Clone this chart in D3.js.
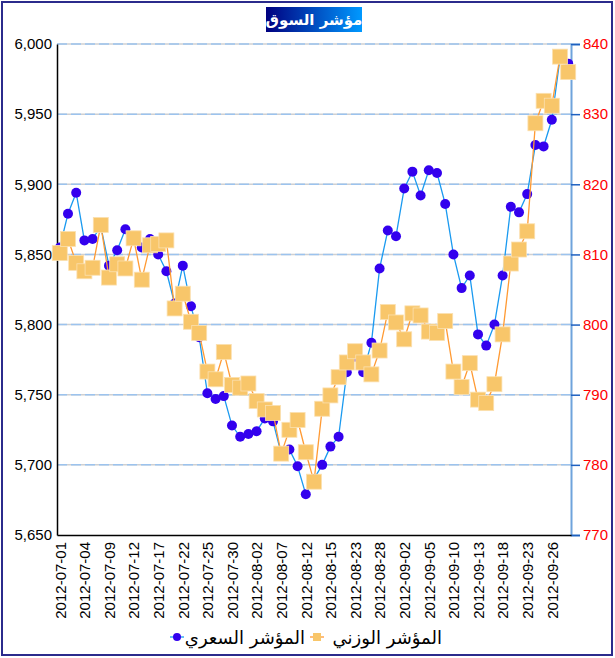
<!DOCTYPE html>
<html>
<head>
<meta charset="utf-8">
<script src="https://cdn.jsdelivr.net/npm/d3@7"></script>
<style>
  body { margin: 0; background: #fff; }
  svg { display: block; }
</style>
</head>
<body>
<svg id="chart" width="615" height="658"></svg>
<script>
// trading days (Sun-Thu), one point per day
var dates = [
  "2012-07-01","2012-07-02","2012-07-03","2012-07-04","2012-07-05",
  "2012-07-08","2012-07-09","2012-07-10","2012-07-11","2012-07-12",
  "2012-07-15","2012-07-16","2012-07-17","2012-07-18","2012-07-19",
  "2012-07-22","2012-07-23","2012-07-24","2012-07-25","2012-07-26",
  "2012-07-29","2012-07-30","2012-07-31","2012-08-01","2012-08-02",
  "2012-08-05","2012-08-06","2012-08-07","2012-08-08","2012-08-09",
  "2012-08-12","2012-08-13","2012-08-14","2012-08-15","2012-08-16",
  "2012-08-22","2012-08-23","2012-08-26","2012-08-27","2012-08-28",
  "2012-08-29","2012-08-30","2012-09-02","2012-09-03","2012-09-04",
  "2012-09-05","2012-09-06","2012-09-09","2012-09-10","2012-09-11",
  "2012-09-12","2012-09-13","2012-09-16","2012-09-17","2012-09-18",
  "2012-09-19","2012-09-20","2012-09-23","2012-09-24","2012-09-25",
  "2012-09-26","2012-09-27","2012-09-30"
];

// المؤشر السعري (left axis)
var priceIndex = [
  5855,5879,5894,5860,5861,5870,5842,5853,5868,5862,
  5855,5861,5850,5838,5815,5842,5813,5791,5751,5747,
  5749,5728,5720,5722,5724,5733,5731,5708,5711,5699,
  5679,5690,5700,5713,5720,5766,5777,5766,5787,5840,
  5867,5863,5897,5909,5892,5910,5908,5886,5850,5826,
  5835,5793,5785,5800,5835,5884,5880,5893,5928,5927,
  5946,5990,5986
];

// المؤشر الوزني (right axis)
var weightIndex = [
  810.2,812.2,808.8,807.6,808.1,814.2,806.7,808.6,808.0,812.3,
  806.4,811.3,811.5,812.0,802.3,804.4,800.4,798.8,793.3,792.2,
  796.1,791.4,791.0,791.6,789.1,787.9,787.4,781.6,785.0,786.4,
  781.8,777.6,788.0,789.9,792.5,794.6,796.2,794.6,792.9,796.3,
  801.8,800.3,797.9,801.6,801.3,799.0,798.8,800.5,793.3,791.1,
  794.5,789.3,788.8,791.5,798.6,808.7,810.7,813.3,828.7,831.9,
  831.2,838.2,836.0
];

var leftTicks = [5650,5700,5750,5800,5850,5900,5950,6000];
var rightTicks = [770,780,790,800,810,820,830,840];
var tickDates = dates.filter(function(d,i){ return i % 3 == 0; });

var titleText = "مؤشر السوق";
var seriesNames = ["المؤشر السعري","المؤشر الوزني"];

var svg = d3.select("#chart");
var plotLeft = 57, plotRight = 571, plotTop = 44, plotBottom = 535;

var x = d3.scalePoint().domain(dates).range([plotLeft, plotRight]).padding(0.34);
var yL = d3.scaleLinear().domain([5650, 6000]).range([plotBottom, plotTop]);
var yR = d3.scaleLinear().domain([770, 840]).range([plotBottom, plotTop]);

// outer frame
svg.append("rect")
  .attr("x", 2).attr("y", 2).attr("width", 610).attr("height", 653)
  .attr("fill", "none").attr("stroke", "#2b2b8c").attr("stroke-width", 2);

// title box with gradient
var defs = svg.append("defs");
var grad = defs.append("linearGradient").attr("id", "tg");
grad.append("stop").attr("offset", "0%").attr("stop-color", "#000080");
grad.append("stop").attr("offset", "100%").attr("stop-color", "#0099ff");
svg.append("rect")
  .attr("x", 266).attr("y", 7).attr("width", 96).attr("height", 25)
  .attr("fill", "url(#tg)");
svg.append("text")
  .attr("x", 314).attr("y", 25)
  .attr("text-anchor", "middle")
  .attr("font-family", "DejaVu Sans")
  .attr("font-weight", "bold")
  .attr("font-size", 15)
  .attr("fill", "#fff")
  .text(titleText);

// grid
var grid = svg.append("g");
leftTicks.filter(function(t){ return t > 5650; }).forEach(function(t){
  grid.append("line")
    .attr("x1", plotLeft).attr("x2", plotRight).attr("y1", yL(t)).attr("y2", yL(t))
    .attr("stroke", "#d0d0d0").attr("stroke-width", 1.5);
  grid.append("line")
    .attr("x1", plotLeft).attr("x2", plotRight).attr("y1", yL(t)).attr("y2", yL(t))
    .attr("stroke", "#9cc3ee").attr("stroke-width", 1.5)
    .attr("stroke-dasharray", "10,4");
});

// left axis
var axL = svg.append("g").attr("transform", "translate(" + plotLeft + ",0)")
  .call(d3.axisLeft(yL).tickValues(leftTicks).tickSize(0).tickPadding(5)
    .tickFormat(d3.format(",")));
axL.select(".domain").attr("stroke", "#000").attr("stroke-width", 1.5);
axL.selectAll("text").attr("font-family", "Liberation Sans").attr("font-size", 15).attr("fill", "#000");

// right axis
var axR = svg.append("g").attr("transform", "translate(" + plotRight + ",0)")
  .call(d3.axisRight(yR).tickValues(rightTicks).tickSize(9).tickPadding(3));
axR.select(".domain").attr("stroke", "#6fa3dc").attr("stroke-width", 2);
axR.selectAll(".tick line").attr("stroke", "#1e60c0").attr("stroke-width", 1.5);
axR.selectAll("text").attr("font-family", "Liberation Sans").attr("font-size", 15).attr("fill", "#ff0000");

// bottom axis
var axB = svg.append("g").attr("transform", "translate(0," + plotBottom + ")")
  .call(d3.axisBottom(x).tickValues(tickDates).tickSize(0).tickPadding(6));
axB.select(".domain").attr("stroke", "#000").attr("stroke-width", 1.5);
axB.selectAll("text")
  .attr("font-family", "Liberation Sans").attr("font-size", 15).attr("fill", "#000")
  .attr("transform", "rotate(-90)")
  .attr("text-anchor", "end")
  .attr("dy", "0.35em")
  .attr("x", -7).attr("y", 0);

// price series
var lineL = d3.line().x(function(d,i){ return x(dates[i]); }).y(function(d){ return yL(d); });
svg.append("path").datum(priceIndex)
  .attr("d", lineL).attr("fill", "none").attr("stroke", "#1a9af0").attr("stroke-width", 1.3);
svg.append("g").selectAll("circle").data(priceIndex).enter().append("circle")
  .attr("cx", function(d,i){ return x(dates[i]); })
  .attr("cy", function(d){ return yL(d); })
  .attr("r", 5)
  .attr("fill", "#3300ee");

// weighted series
var lineR = d3.line().x(function(d,i){ return x(dates[i]); }).y(function(d){ return yR(d); });
svg.append("path").datum(weightIndex)
  .attr("d", lineR).attr("fill", "none").attr("stroke", "#ff9a33").attr("stroke-width", 1.3);
var sq = 15;
svg.append("g").selectAll("rect").data(weightIndex).enter().append("rect")
  .attr("x", function(d,i){ return x(dates[i]) - sq/2; })
  .attr("y", function(d){ return yR(d) - sq/2; })
  .attr("width", sq).attr("height", sq)
  .attr("fill", "#f8c66a")
  .attr("stroke", "#fbe0b0").attr("stroke-width", 0.8);

// legend
var lg = svg.append("g");
lg.append("line").attr("x1", 170).attr("x2", 184).attr("y1", 637).attr("y2", 637)
  .attr("stroke", "#1a9af0").attr("stroke-width", 1.3);
lg.append("circle").attr("cx", 177).attr("cy", 637).attr("r", 4).attr("fill", "#3300ee");
lg.append("text").attr("x", 305).attr("y", 644).attr("text-anchor", "end")
  .attr("font-family", "DejaVu Sans").attr("font-size", 18).attr("fill", "#000")
  .text(seriesNames[0]);
lg.append("line").attr("x1", 310).attr("x2", 324).attr("y1", 637).attr("y2", 637)
  .attr("stroke", "#ff9a33").attr("stroke-width", 1.3);
lg.append("rect").attr("x", 313).attr("y", 633).attr("width", 8).attr("height", 8)
  .attr("fill", "#f8c66a");
lg.append("text").attr("x", 442).attr("y", 644).attr("text-anchor", "end")
  .attr("font-family", "DejaVu Sans").attr("font-size", 18).attr("fill", "#000")
  .text(seriesNames[1]);
</script>
</body>
</html>
